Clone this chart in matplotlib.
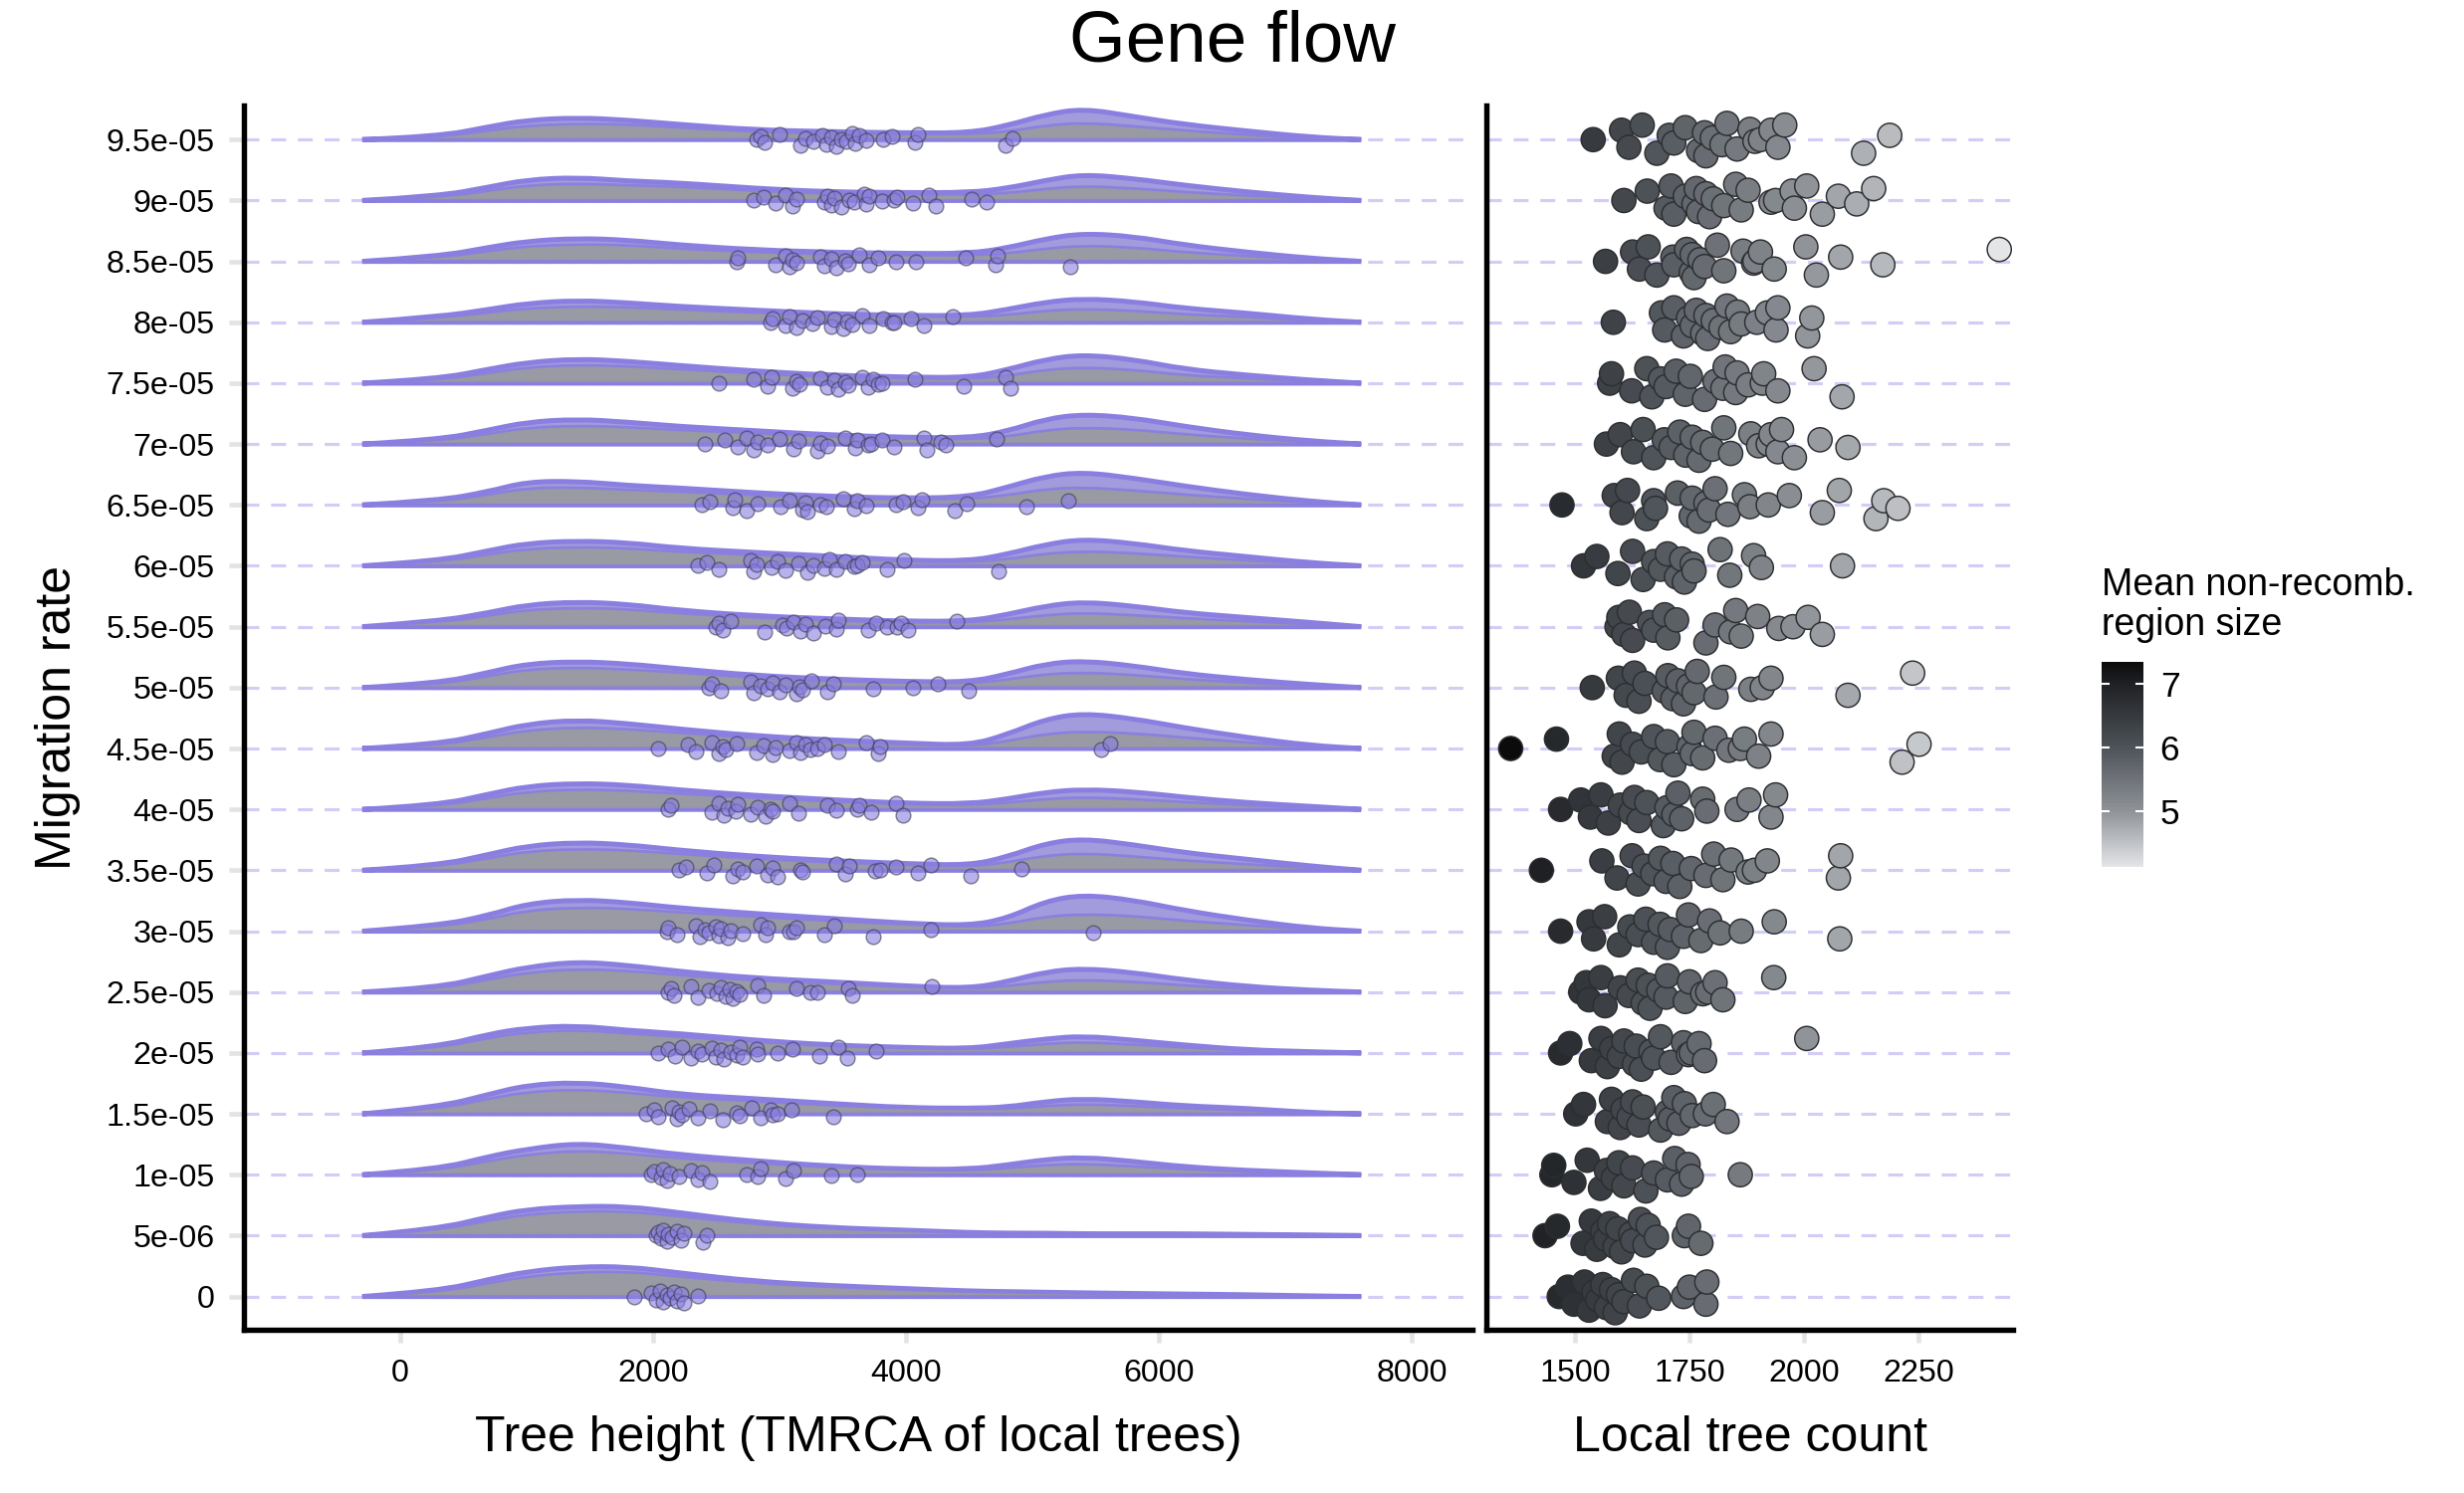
import numpy as np
import matplotlib
matplotlib.use("Agg")
import matplotlib.pyplot as plt
from matplotlib.path import Path
from matplotlib.patches import PathPatch
from matplotlib.colors import LinearSegmentedColormap, Normalize
from matplotlib.cm import ScalarMappable

plt.rcParams['font.family'] = ['Liberation Sans', 'DejaVu Sans']

# migration rates, bottom row first
rate_labels = ['0', '5e-06', '1e-05', '1.5e-05', '2e-05', '2.5e-05', '3e-05', '3.5e-05',
               '4e-05', '4.5e-05', '5e-05', '5.5e-05', '6e-05', '6.5e-05', '7e-05',
               '7.5e-05', '8e-05', '8.5e-05', '9e-05', '9.5e-05']

# tree height grid of the density ridges
height_grid = [-300, 300, 700, 1000, 1400, 1800, 2200, 2800, 3400, 4000,
               4500, 4800, 5100, 5400, 5800, 6200, 6700, 7200, 7600]

# ridge envelope (highest replicate density), in row units
ridge_top = [
    [0, .09, .28, .41, .49, .49, .39, .25, .18, .13, .09, .08, .07, .06, .05, .04, .03, .01, 0],
    [0, .11, .31, .43, .48, .48, .38, .22, .13, .09, .05, .04, .04, .03, .03, .03, .02, .01, 0],
    [0, .09, .30, .42, .52, .44, .33, .23, .14, .09, .09, .16, .25, .29, .22, .13, .07, .03, 0],
    [0, .11, .32, .47, .52, .44, .32, .25, .17, .10, .09, .11, .20, .25, .20, .13, .09, .02, 0],
    [0, .10, .31, .41, .45, .37, .32, .21, .13, .09, .07, .15, .23, .28, .21, .13, .05, .02, 0],
    [0, .07, .27, .41, .50, .44, .34, .23, .17, .10, .06, .17, .33, .39, .32, .20, .09, .03, 0],
    [0, .09, .26, .45, .52, .47, .38, .29, .21, .13, .09, .21, .49, .60, .51, .34, .18, .05, 0],
    [0, .08, .26, .40, .46, .42, .33, .23, .16, .11, .08, .22, .44, .52, .42, .29, .18, .07, 0],
    [0, .07, .25, .38, .43, .40, .32, .23, .16, .10, .09, .17, .28, .33, .29, .20, .11, .05, 0],
    [0, .07, .25, .40, .47, .41, .32, .21, .14, .09, .05, .23, .48, .58, .49, .34, .18, .05, 0],
    [0, .07, .25, .39, .43, .39, .31, .20, .14, .10, .09, .22, .39, .44, .36, .23, .13, .05, 0],
    [0, .09, .23, .36, .41, .37, .27, .18, .13, .09, .09, .20, .34, .41, .34, .23, .15, .07, 0],
    [0, .08, .25, .37, .41, .38, .29, .22, .16, .09, .08, .19, .35, .44, .37, .25, .15, .05, 0],
    [0, .07, .22, .38, .39, .32, .28, .20, .14, .11, .13, .29, .47, .54, .44, .31, .17, .06, 0],
    [0, .07, .23, .36, .41, .36, .29, .22, .15, .11, .10, .21, .41, .49, .43, .29, .15, .05, 0],
    [0, .07, .23, .34, .40, .36, .29, .20, .13, .10, .09, .22, .39, .47, .39, .23, .13, .05, 0],
    [0, .09, .21, .31, .36, .32, .26, .20, .14, .11, .11, .21, .33, .39, .34, .23, .15, .05, 0],
    [0, .08, .23, .33, .38, .35, .27, .19, .15, .13, .13, .22, .37, .46, .41, .27, .15, .05, 0],
    [0, .07, .22, .34, .38, .32, .29, .20, .14, .13, .13, .20, .33, .43, .36, .25, .14, .05, 0],
    [0, .05, .21, .32, .36, .32, .25, .16, .13, .11, .11, .23, .41, .51, .38, .25, .14, .04, 0],
]

# lowest replicate density of each ridge, in row units
ridge_low = [
    [0, .07, .22, .33, .40, .41, .33, .22, .16, .11, .08, .07, .06, .05, .04, .03, .02, .01, 0],
    [0, .09, .25, .35, .40, .40, .32, .19, .11, .08, .04, .03, .03, .03, .02, .02, .02, .01, 0],
    [0, .07, .23, .33, .40, .35, .27, .19, .12, .08, .07, .11, .16, .18, .14, .09, .05, .02, 0],
    [0, .08, .25, .36, .40, .35, .27, .21, .14, .09, .08, .08, .13, .16, .13, .09, .06, .02, 0],
    [0, .08, .25, .34, .38, .32, .27, .18, .11, .08, .06, .10, .15, .18, .14, .09, .04, .01, 0],
    [0, .05, .21, .32, .38, .35, .28, .19, .14, .08, .05, .10, .17, .20, .17, .11, .05, .02, 0],
    [0, .07, .20, .34, .39, .37, .31, .24, .17, .11, .07, .12, .24, .28, .25, .17, .10, .03, 0],
    [0, .06, .20, .31, .35, .33, .27, .19, .13, .09, .06, .13, .24, .28, .23, .16, .10, .04, 0],
    [0, .05, .19, .29, .33, .31, .26, .19, .13, .08, .07, .11, .17, .20, .17, .12, .07, .03, 0],
    [0, .05, .19, .30, .35, .32, .26, .17, .11, .07, .04, .12, .24, .28, .25, .18, .10, .03, 0],
    [0, .05, .19, .30, .33, .30, .25, .16, .11, .08, .07, .13, .22, .25, .21, .14, .08, .03, 0],
    [0, .07, .18, .28, .31, .29, .22, .15, .10, .07, .07, .12, .19, .23, .19, .14, .09, .04, 0],
    [0, .06, .19, .28, .31, .29, .23, .18, .13, .07, .06, .11, .20, .24, .21, .15, .09, .03, 0],
    [0, .05, .17, .28, .29, .25, .22, .16, .11, .09, .10, .16, .26, .29, .24, .17, .10, .04, 0],
    [0, .05, .17, .27, .30, .28, .23, .18, .12, .09, .08, .12, .23, .27, .24, .16, .09, .03, 0],
    [0, .05, .17, .26, .30, .28, .23, .16, .10, .08, .07, .12, .22, .26, .22, .13, .08, .03, 0],
    [0, .07, .16, .23, .26, .25, .21, .16, .11, .09, .09, .12, .19, .22, .19, .13, .09, .03, 0],
    [0, .06, .17, .25, .28, .27, .21, .15, .12, .10, .10, .13, .21, .26, .23, .15, .09, .03, 0],
    [0, .05, .16, .25, .28, .25, .23, .16, .11, .10, .10, .12, .19, .24, .20, .14, .08, .03, 0],
    [0, .04, .15, .23, .26, .25, .20, .13, .10, .09, .09, .13, .23, .28, .22, .15, .08, .02, 0],
]

# mean tree height of each replicate
mean_height = [
    [1849, 1987, 2026, 2053, 2081, 2108, 2136, 2164, 2191, 2219, 2246, 2357],
    [2026, 2042, 2064, 2081, 2108, 2119, 2153, 2191, 2219, 2246, 2395, 2429],
    [1987, 2009, 2064, 2081, 2108, 2136, 2208, 2302, 2357, 2384, 2451, 2744, 2826, 2854,
     3047, 3114, 3406, 3611],
    [1943, 2009, 2042, 2153, 2191, 2208, 2230, 2285, 2357, 2451, 2550, 2661, 2688, 2782,
     2854, 2926, 2948, 2981, 3092, 3423],
    [2042, 2119, 2175, 2230, 2302, 2357, 2384, 2467, 2495, 2539, 2561, 2617, 2661, 2688,
     2705, 2815, 2826, 2981, 3103, 3313, 3462, 3533, 3766],
    [2119, 2141, 2164, 2302, 2357, 2440, 2506, 2539, 2578, 2606, 2633, 2661, 2688, 2826,
     2871, 3130, 3241, 3296, 3544, 3572, 4207],
    [2108, 2119, 2191, 2340, 2373, 2412, 2440, 2495, 2523, 2539, 2594, 2617, 2705, 2854,
     2893, 2909, 3075, 3114, 3130, 3351, 3434, 3738, 4196, 5478],
    [2208, 2263, 2429, 2484, 2633, 2672, 2705, 2815, 2909, 2948, 2981, 3169, 3185, 3445,
     3517, 3555, 3754, 3793, 3920, 4097, 4196, 4511, 4915],
    [2119, 2141, 2467, 2523, 2561, 2594, 2650, 2672, 2771, 2826, 2893, 2926, 2948, 3075,
     3147, 3379, 3445, 3611, 3627, 3721, 3920, 3975],
    [2042, 2274, 2340, 2467, 2523, 2550, 2578, 2661, 2815, 2871, 2948, 2965, 3075, 3130,
     3169, 3202, 3241, 3296, 3351, 3462, 3683, 3776, 3793, 5544, 5616],
    [2440, 2467, 2539, 2771, 2799, 2854, 2909, 2948, 3003, 3047, 3130, 3158, 3185, 3252,
     3379, 3423, 3738, 4053, 4252, 4495],
    [2495, 2523, 2550, 2617, 2882, 3020, 3059, 3114, 3169, 3202, 3268, 3362, 3445, 3467,
     3699, 3765, 3848, 3931, 3959, 4014, 4401],
    [2357, 2429, 2523, 2771, 2799, 2815, 2937, 2981, 3047, 3147, 3224, 3268, 3351, 3390,
     3445, 3517, 3589, 3611, 3655, 3848, 3986, 4732],
    [2384, 2451, 2633, 2644, 2744, 2826, 3009, 3075, 3185, 3202, 3224, 3323, 3368, 3500,
     3589, 3611, 3683, 3920, 3975, 4097, 4125, 4384, 4484, 4953, 5284],
    [2412, 2567, 2672, 2744, 2799, 2826, 2909, 3003, 3114, 3147, 3296, 3323, 3379, 3517,
     3600, 3611, 3699, 3721, 3810, 3904, 4141, 4163, 4274, 4318, 4716],
    [2523, 2799, 2909, 2937, 3103, 3130, 3158, 3323, 3379, 3434, 3462, 3517, 3544, 3655,
     3699, 3738, 3776, 3810, 4069, 4456, 4787, 4826],
    [2926, 2948, 3047, 3075, 3130, 3185, 3257, 3296, 3406, 3434, 3500, 3533, 3572, 3655,
     3710, 3821, 3887, 3904, 4042, 4141, 4373],
    [2661, 2672, 2965, 3047, 3075, 3103, 3130, 3323, 3351, 3406, 3445, 3517, 3544, 3627,
     3710, 3776, 3920, 4075, 4473, 4705, 4721, 5301],
    [2799, 2871, 2965, 3047, 3103, 3130, 3351, 3379, 3406, 3434, 3489, 3555, 3589, 3666,
     3683, 3710, 3810, 3904, 3931, 4053, 4180, 4235, 4522, 4638],
    [2815, 2854, 2882, 3003, 3169, 3202, 3268, 3335, 3368, 3406, 3445, 3489, 3528, 3572,
     3600, 3627, 3683, 3821, 3887, 4069, 4097, 4787, 4843],
]

# number of local trees of each replicate
tree_count = [
    [1466, 1485, 1498, 1521, 1531, 1542, 1550, 1561, 1569, 1580, 1588, 1595, 1607, 1628,
     1641, 1657, 1683, 1737, 1750, 1786, 1788],
    [1435, 1462, 1518, 1536, 1548, 1561, 1567, 1576, 1588, 1594, 1602, 1622, 1626, 1643,
     1653, 1660, 1678, 1739, 1748, 1775],
    [1450, 1454, 1498, 1527, 1556, 1569, 1584, 1596, 1607, 1626, 1655, 1672, 1702, 1718,
     1733, 1747, 1754, 1861],
    [1502, 1519, 1571, 1580, 1599, 1605, 1618, 1626, 1640, 1649, 1687, 1702, 1708, 1716,
     1727, 1739, 1756, 1785, 1802, 1832],
    [1469, 1489, 1536, 1557, 1571, 1580, 1597, 1607, 1630, 1634, 1645, 1666, 1672, 1687,
     1710, 1737, 1748, 1754, 1771, 1783, 2006],
    [1513, 1525, 1531, 1557, 1566, 1599, 1618, 1638, 1649, 1660, 1664, 1683, 1699, 1702,
     1741, 1750, 1779, 1790, 1806, 1823, 1934],
    [1469, 1531, 1541, 1565, 1597, 1620, 1638, 1655, 1672, 1686, 1702, 1708, 1737, 1748,
     1775, 1794, 1817, 1863, 1935, 2078],
    [1427, 1559, 1592, 1625, 1638, 1651, 1670, 1687, 1699, 1714, 1729, 1754, 1786, 1803,
     1823, 1841, 1878, 1892, 1920, 2075, 2080],
    [1469, 1513, 1534, 1557, 1573, 1599, 1622, 1630, 1640, 1657, 1693, 1701, 1716, 1725,
     1733, 1779, 1788, 1854, 1880, 1928, 1938],
    [1360, 1460, 1586, 1597, 1603, 1626, 1645, 1672, 1686, 1702, 1716, 1749, 1756, 1760,
     1779, 1806, 1836, 1861, 1870, 1901, 1928, 2214, 2251],
    [1538, 1595, 1612, 1630, 1640, 1653, 1695, 1703, 1714, 1725, 1737, 1748, 1760, 1767,
     1808, 1825, 1884, 1909, 1928, 2096, 2237],
    [1592, 1596, 1607, 1619, 1626, 1663, 1672, 1696, 1703, 1722, 1786, 1806, 1840, 1851,
     1863, 1899, 1945, 1976, 2009, 2040],
    [1519, 1548, 1594, 1626, 1649, 1672, 1687, 1702, 1722, 1733, 1739, 1756, 1760, 1817,
     1838, 1890, 1907, 2084],
    [1472, 1586, 1603, 1615, 1657, 1672, 1676, 1724, 1754, 1756, 1771, 1786, 1793, 1806,
     1834, 1870, 1882, 1922, 1968, 2040, 2077, 2157, 2174, 2205],
    [1569, 1599, 1628, 1649, 1672, 1695, 1710, 1729, 1742, 1756, 1771, 1779, 1800, 1825,
     1840, 1884, 1901, 1922, 1928, 1943, 1951, 1979, 2035, 2096],
    [1576, 1580, 1624, 1657, 1668, 1687, 1699, 1721, 1741, 1752, 1783, 1806, 1823, 1828,
     1851, 1854, 1878, 1909, 1912, 1943, 2022, 2083],
    [1584, 1689, 1696, 1716, 1737, 1748, 1756, 1765, 1779, 1786, 1790, 1802, 1819, 1832,
     1840, 1855, 1863, 1897, 1920, 1939, 1943, 2008, 2017],
    [1567, 1626, 1641, 1660, 1679, 1714, 1716, 1744, 1754, 1756, 1760, 1773, 1783, 1811,
     1825, 1867, 1890, 1893, 1905, 1935, 2004, 2027, 2080, 2172, 2426],
    [1607, 1658, 1699, 1710, 1716, 1741, 1760, 1765, 1770, 1786, 1794, 1802, 1825, 1851,
     1863, 1878, 1928, 1938, 1974, 1979, 2006, 2040, 2075, 2115, 2152],
    [1540, 1602, 1618, 1647, 1679, 1706, 1716, 1741, 1770, 1783, 1786, 1800, 1821, 1832,
     1854, 1882, 1893, 1905, 1928, 1943, 1958, 2130, 2187],
]

seq_length = 10000  # mean non-recombining region size = sequence length / tree count

purple = '#8a7fe0'
dash_col = '#d3ccf7'
tick_col = '#e3e3e3'
jitter_pattern = np.array([0.0, 0.55, -0.45, 0.85, -0.8, 0.25, -0.2, 0.7, -0.65,
                           0.4, -0.95, 0.1, -0.3, 0.95, -0.55, 0.6, -0.1])


def ridge_path(xs, ys, base):
    # trim trailing zero heights
    last = max(i for i, v in enumerate(ys) if v > 0) + 1
    xs, ys = xs[:last + 1], ys[:last + 1]
    verts = [(xs[0], base + ys[0])]
    codes = [Path.MOVETO]
    for i in range(1, len(xs) - 1):
        verts += [(xs[i], base + ys[i]),
                  ((xs[i] + xs[i + 1]) / 2, base + (ys[i] + ys[i + 1]) / 2)]
        codes += [Path.CURVE3, Path.CURVE3]
    verts += [(xs[-1], base + ys[-1]), (xs[0], base), (xs[0], base)]
    codes += [Path.LINETO, Path.LINETO, Path.CLOSEPOLY]
    return Path(verts, codes)


def jitter(n, amp):
    return np.resize(jitter_pattern, n) * amp


cmap = LinearSegmentedColormap.from_list(
    'grey_region',
    [(0.0, '#e4e5e7'), (0.271, '#8f9398'), (0.583, '#4e5359'), (0.894, '#1f2124'), (1.0, '#0b0b0c')])
norm = Normalize(vmin=4.13, vmax=7.34)

fig = plt.figure(figsize=(16.5, 10), dpi=150)
W, H = 2475, 1500
ax1 = fig.add_axes([245 / W, 1 - 1336 / H, (1479 - 245) / W, (1336 - 106) / H])
ax2 = fig.add_axes([1493 / W, 1 - 1336 / H, (2022 - 1493) / W, (1336 - 106) / H])
cax = fig.add_axes([2111 / W, 1 - 871 / H, 42 / W, 206 / H])

rows = np.arange(len(rate_labels))
xg = np.array(height_grid, dtype=float)

for ax in (ax1, ax2):
    for r in rows:
        ax.axhline(r, color=dash_col, lw=1.5, dashes=(4.8, 3.8), zorder=0)
    ax.set_ylim(-0.546, 19.56)
    for s in ('top', 'right'):
        ax.spines[s].set_visible(False)
    for s in ('left', 'bottom'):
        ax.spines[s].set_linewidth(2.6)
        ax.spines[s].set_color('black')
    ax.tick_params(axis='x', length=6, width=2.2, color=tick_col, pad=8, labelsize=15.5)

# left panel: density ridges and replicate means
for r in rows:
    hi = np.array(ridge_top[r])
    lo = np.array(ridge_low[r])
    ax1.add_patch(PathPatch(ridge_path(xg, hi, r), facecolor='#a39cdc', edgecolor=purple,
                            lw=2.4, zorder=2 + r * 0.01))
    ax1.add_patch(PathPatch(ridge_path(xg, lo, r), facecolor='#999aa0', edgecolor=purple,
                            lw=1.3, alpha=0.95, zorder=2 + r * 0.01))
    hx = np.array(mean_height[r])
    ax1.scatter(hx, r + jitter(len(hx), 0.11), s=50, facecolor=purple, alpha=0.6,
                edgecolor='#3d3d52', linewidth=0.7, zorder=3)

ax1.set_xlim(-1236, 8480)
ax1.set_xticks([0, 2000, 4000, 6000, 8000])
ax1.set_yticks(rows)
ax1.set_yticklabels(rate_labels)
ax1.tick_params(axis='y', length=7, width=2.2, color=tick_col, pad=7, labelsize=15.5)

# right panel: local tree counts
for r in rows:
    cnt = np.array(tree_count[r], dtype=float)
    size = seq_length / cnt
    ax2.scatter(cnt, r + jitter(len(cnt), 0.28), s=135, c=size, cmap=cmap, norm=norm,
                edgecolor='#2c2e31', linewidth=0.7, zorder=3)

ax2.set_xlim(1307, 2456)
ax2.set_xticks([1500, 1750, 2000, 2250])
ax2.set_yticks([])

# colour bar
cb = fig.colorbar(ScalarMappable(norm=norm, cmap=cmap), cax=cax)
cb.outline.set_visible(False)
cb.set_ticks([5, 6, 7])
cax.tick_params(axis='y', which='both', direction='in', left=True, right=True,
                length=4, width=1, color='white', labelsize=17, pad=8)

fig.text(2111 / W, 1 - 570 / H, 'Mean non-recomb.\nregion size', ha='left', va='top',
         fontsize=18, linespacing=1.15)
fig.text(0.5, 1 - 43 / H, 'Gene flow', ha='center', va='center', fontsize=35)
fig.text(862 / W, 1 - 1445 / H, 'Tree height (TMRCA of local trees)', ha='center',
         va='center', fontsize=24)
fig.text(1758 / W, 1 - 1445 / H, 'Local tree count', ha='center', va='center', fontsize=24)
fig.text(58 / W, 1 - 721 / H, 'Migration rate', ha='center', va='center', rotation=90,
         fontsize=24)

fig.savefig('out.png', dpi=150, facecolor='white')
